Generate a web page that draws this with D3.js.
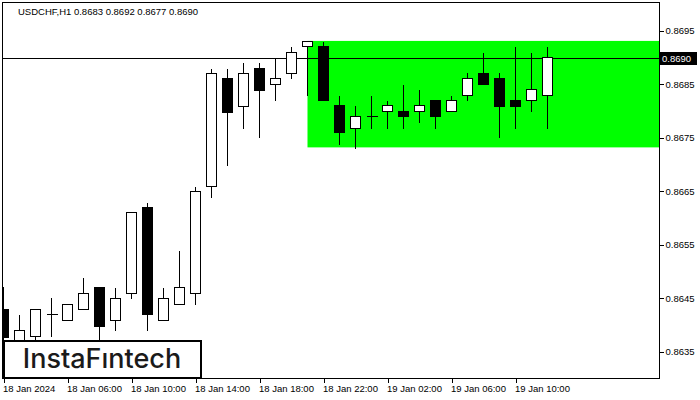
<!DOCTYPE html>
<html>
<head>
<meta charset="utf-8">
<script src="https://cdn.jsdelivr.net/npm/d3@7"></script>
<style>
  html, body { margin: 0; padding: 0; background: #fff; }
  svg { display: block; }
  text { font-family: "Liberation Sans", Arial, sans-serif; }
</style>
</head>
<body>
<svg id="chart" width="700" height="400"></svg>
<script>
// ---- data ----
const times = [
  "2024-01-18T02:00","2024-01-18T03:00","2024-01-18T04:00","2024-01-18T05:00","2024-01-18T06:00",
  "2024-01-18T07:00","2024-01-18T08:00","2024-01-18T09:00","2024-01-18T10:00","2024-01-18T11:00",
  "2024-01-18T12:00","2024-01-18T13:00","2024-01-18T14:00","2024-01-18T15:00","2024-01-18T16:00",
  "2024-01-18T17:00","2024-01-18T18:00","2024-01-18T19:00","2024-01-18T20:00","2024-01-18T21:00",
  "2024-01-18T22:00","2024-01-18T23:00","2024-01-19T00:00","2024-01-19T01:00","2024-01-19T02:00",
  "2024-01-19T03:00","2024-01-19T04:00","2024-01-19T05:00","2024-01-19T06:00","2024-01-19T07:00",
  "2024-01-19T08:00","2024-01-19T09:00","2024-01-19T10:00","2024-01-19T11:00","2024-01-19T12:00"
];
const open  = [0.86430,0.86370,0.86379,0.86420,0.86409,0.86430,0.86471,0.86409,0.86460,0.86621,
               0.86409,0.86440,0.86460,0.86660,0.86862,0.86810,0.86880,0.86850,0.86871,0.86922,
               0.86922,0.86812,0.86769,0.86791,0.86800,0.86800,0.86800,0.86821,0.86800,0.86830,
               0.86871,0.86862,0.86820,0.86820,0.86829];
const high  = [0.86472,0.86421,0.86430,0.86452,0.86440,0.86490,0.86471,0.86471,0.86611,0.86630,
               0.86471,0.86541,0.86660,0.86881,0.86881,0.86892,0.86892,0.86901,0.86922,0.86931,
               0.86931,0.86830,0.86812,0.86830,0.86821,0.86851,0.86842,0.86821,0.86830,0.86872,
               0.86911,0.86872,0.86922,0.86911,0.86922];
const low   = [0.86360,0.86350,0.86360,0.86379,0.86409,0.86430,0.86370,0.86390,0.86450,0.86390,
               0.86409,0.86440,0.86440,0.86640,0.86700,0.86769,0.86751,0.86820,0.86861,0.86829,
               0.86820,0.86739,0.86730,0.86769,0.86769,0.86769,0.86780,0.86769,0.86800,0.86820,
               0.86850,0.86751,0.86769,0.86800,0.86769];
const close = [0.86378,0.86390,0.86430,0.86420,0.86440,0.86460,0.86399,0.86450,0.86611,0.86420,
               0.86450,0.86471,0.86650,0.86871,0.86799,0.86871,0.86840,0.86862,0.86910,0.86931,
               0.86820,0.86760,0.86791,0.86791,0.86811,0.86790,0.86811,0.86790,0.86821,0.86862,
               0.86850,0.86810,0.86810,0.86841,0.86901];

const priceTicks = [0.8695,0.8685,0.8675,0.8665,0.8655,0.8645,0.8635];
const timeTicks  = ["2024-01-18T02:00","2024-01-18T06:00","2024-01-18T10:00","2024-01-18T14:00",
                    "2024-01-18T18:00","2024-01-18T22:00","2024-01-19T02:00","2024-01-19T06:00",
                    "2024-01-19T10:00"];
const timeLabels = ["18 Jan 2024","18 Jan 06:00","18 Jan 10:00","18 Jan 14:00","18 Jan 18:00",
                    "18 Jan 22:00","19 Jan 02:00","19 Jan 06:00","19 Jan 10:00"];

const zoneStart = "2024-01-18T21:00";
const zoneHigh = 0.86931;
const zoneLow  = 0.86732;
const currentPrice = 0.8690;
const title = "USDCHF,H1  0.8683 0.8692 0.8677 0.8690";
const logoText = "InstaF\u0131ntech";

// ---- scales ----
const parse = d3.utcParse("%Y-%m-%dT%H:%M");
const plot = { left: 2.5, right: 659.5, top: 2.5, bottom: 378.5 };

const x = d3.scaleUtc()
  .domain([parse(times[0]), parse(times[times.length - 1])])
  .range([3.5, 3.5 + 16 * (times.length - 1)]);
const y = d3.scaleLinear().domain([0.8635, 0.8695]).range([351.75, 30.75]);
const py = v => Math.round(y(v)) + 0.5;

const svg = d3.select("#chart");
svg.append("rect").attr("width", 700).attr("height", 400).attr("fill", "#fff");

svg.append("defs").append("clipPath").attr("id", "plotclip")
  .append("rect").attr("x", plot.left).attr("y", plot.top)
  .attr("width", plot.right - plot.left).attr("height", plot.bottom - plot.top);

const g = svg.append("g").attr("clip-path", "url(#plotclip)");

// zone rectangle
g.append("rect")
  .attr("x", x(parse(zoneStart)))
  .attr("y", y(zoneHigh))
  .attr("width", plot.right - x(parse(zoneStart)))
  .attr("height", y(zoneLow) - y(zoneHigh))
  .attr("fill", "#00ff00");

// current price line
g.append("line")
  .attr("x1", plot.left).attr("x2", plot.right)
  .attr("y1", py(currentPrice)).attr("y2", py(currentPrice))
  .attr("stroke", "#000").attr("stroke-width", 1);

// candles
const bars = times.map((t, i) => ({ t: parse(t), o: open[i], h: high[i], l: low[i], c: close[i] }));
const cg = g.append("g").attr("shape-rendering", "crispEdges");
cg.selectAll("line.wick").data(bars).join("line")
  .attr("class", "wick")
  .attr("x1", d => x(d.t)).attr("x2", d => x(d.t))
  .attr("y1", d => py(d.h)).attr("y2", d => py(d.l))
  .attr("stroke", "#000");
const solid = bars.filter(d => py(d.o) !== py(d.c));
const dojis = bars.filter(d => py(d.o) === py(d.c));
cg.selectAll("rect.body").data(solid).join("rect")
  .attr("class", "body")
  .attr("x", d => x(d.t) - 5)
  .attr("width", 10)
  .attr("y", d => py(Math.max(d.o, d.c)))
  .attr("height", d => py(Math.min(d.o, d.c)) - py(Math.max(d.o, d.c)))
  .attr("fill", d => d.c >= d.o ? "#fff" : "#000")
  .attr("stroke", "#000");
cg.selectAll("line.doji").data(dojis).join("line")
  .attr("class", "doji")
  .attr("x1", d => x(d.t) - 5).attr("x2", d => x(d.t) + 6)
  .attr("y1", d => py(d.o)).attr("y2", d => py(d.o))
  .attr("stroke", "#000");

// title
svg.append("text").attr("x", 18).attr("y", 15)
  .attr("font-size", "9.5px").attr("fill", "#000").text(title);

// frame
svg.append("rect")
  .attr("x", plot.left).attr("y", plot.top)
  .attr("width", plot.right - plot.left).attr("height", plot.bottom - plot.top)
  .attr("fill", "none").attr("stroke", "#000").attr("shape-rendering", "crispEdges");

// right axis
const yAxis = d3.axisRight(y).tickValues(priceTicks).tickSize(4).tickPadding(2)
  .tickFormat(d3.format(".4f"));
const ya = svg.append("g").attr("transform", `translate(${plot.right},0)`).call(yAxis);
ya.select(".domain").remove();
ya.selectAll(".tick line").attr("shape-rendering", "crispEdges");
ya.selectAll("text").attr("font-family", "Liberation Sans, Arial, sans-serif")
  .attr("font-size", "9.5px").attr("fill", "#000");

// current price label
const cpY = py(currentPrice);
svg.append("rect").attr("x", 660).attr("y", cpY - 6.5).attr("width", 37).attr("height", 13).attr("fill", "#000");
svg.append("text").attr("x", 662).attr("y", cpY + 3.5)
  .attr("font-size", "9.5px").attr("fill", "#fff").text(d3.format(".4f")(currentPrice));

// bottom axis
const xAxis = d3.axisBottom(x)
  .tickValues(timeTicks.map(parse))
  .tickSize(4).tickPadding(3)
  .tickFormat((d, i) => timeLabels[i]);
const xa = svg.append("g").attr("transform", `translate(0,${plot.bottom})`).call(xAxis);
xa.select(".domain").remove();
xa.selectAll(".tick line").attr("shape-rendering", "crispEdges");
xa.selectAll("text").attr("text-anchor", "start").attr("dx", "-1")
  .attr("font-family", "Liberation Sans, Arial, sans-serif")
  .attr("font-size", "9.5px").attr("fill", "#000");

// logo
svg.append("rect").attr("x", 4).attr("y", 341).attr("width", 197).attr("height", 37)
  .attr("fill", "#fff").attr("stroke", "#000").attr("stroke-width", 2);
svg.append("text").attr("x", 102).attr("y", 368)
  .attr("text-anchor", "middle")
  .style("font-family", "Inter, 'Open Sans', sans-serif")
  .attr("font-size", "27px").attr("font-weight", 500).attr("fill", "#1a1a1a")
  .text(logoText);
</script>
</body>
</html>
